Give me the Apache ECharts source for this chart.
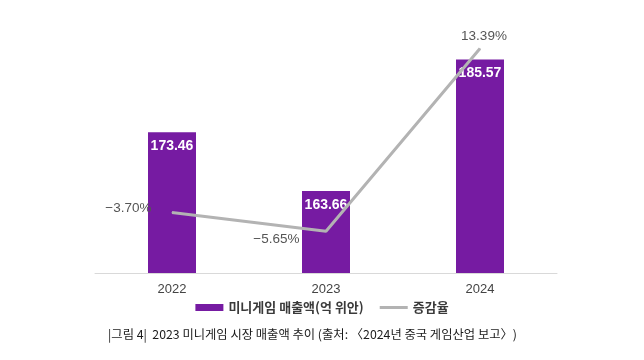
<!DOCTYPE html>
<html><head><meta charset="utf-8">
<script src="https://cdn.jsdelivr.net/npm/echarts@6/dist/echarts.min.js"></script>
<style>html,body{margin:0;padding:0;background:#fff}#c{width:644px;height:360px}</style>
</head><body><div id="c"></div>
<script>
const categories = ['2022', '2023', '2024'];
const revenue = [173.46, 163.66, 185.57];
const growth = [-3.70, -5.65, 13.39];
const revenueName = '미니게임 매출액(억 위안)';
const growthName = '증감율';
const caption = '|그림 4|  2023 미니게임 시장 매출액 추이 (출처: 〈2024년 중국 게임산업 보고〉)';

const font = '"Noto Sans CJK KR", "Noto Sans", sans-serif';
const numFont = '"Liberation Sans", Arial, sans-serif';
const labelPos = [
  { position: 'left', distance: 20, offset: [0, -4] },
  { position: 'left', distance: 26, offset: [0, 8] },
  { position: 'top', distance: 5, offset: [4, 0] }
];
const chart = echarts.init(document.getElementById('c'));
chart.setOption({
  animation: false,
  textStyle: { fontFamily: font },
  grid: { left: 95, right: 87, top: 33, bottom: 87 },
  legend: {
    bottom: 41, left: 'center', itemGap: 16, itemWidth: 28, itemHeight: 7,
    textStyle: { fontSize: 13, color: '#3a3a3a', fontWeight: 'bold', fontFamily: font },
    data: [
      { name: revenueName, icon: 'rect' },
      { name: growthName, icon: 'path://M0,0H28V3H0Z', itemStyle: { color: '#b3b3b3', opacity: 1 } }
    ]
  },
  graphic: [{
    type: 'text', left: 108, top: 328,
    style: { text: caption, fontSize: 12.3, fill: '#1a1a1a', fontFamily: font }
  }],
  xAxis: {
    type: 'category', data: categories,
    axisLine: { onZero: false, lineStyle: { color: '#d9d9d9', width: 1 } },
    axisTick: { show: false },
    axisLabel: { color: '#444', fontSize: 13, margin: 10, fontFamily: numFont }
  },
  yAxis: [
    { type: 'value', min: 150, max: 190, show: false, splitLine: { show: false } },
    { type: 'value', min: -10, max: 15, show: false, splitLine: { show: false } }
  ],
  series: [
    {
      name: revenueName, type: 'bar', data: revenue, barWidth: 48,
      itemStyle: { color: '#761ba2' },
      label: {
        show: true, position: 'insideTop', distance: 7, color: '#fff',
        fontSize: 14, fontWeight: 'bold', fontFamily: numFont
      }
    },
    {
      name: growthName, type: 'line', yAxisIndex: 1,
      data: growth.map((v, i) => ({ value: v, label: labelPos[i] })),
      symbol: 'circle', symbolSize: 1, showSymbol: true,
      lineStyle: { color: '#b3b3b3', width: 3 },
      itemStyle: { color: '#b3b3b3' },
      label: {
        show: true, color: '#555', fontSize: 13.5,
        fontFamily: numFont,
        formatter: p => (p.value < 0 ? '\u2212' : '') + Math.abs(p.value).toFixed(2) + '%'
      }
    }
  ]
});
</script></body></html>
